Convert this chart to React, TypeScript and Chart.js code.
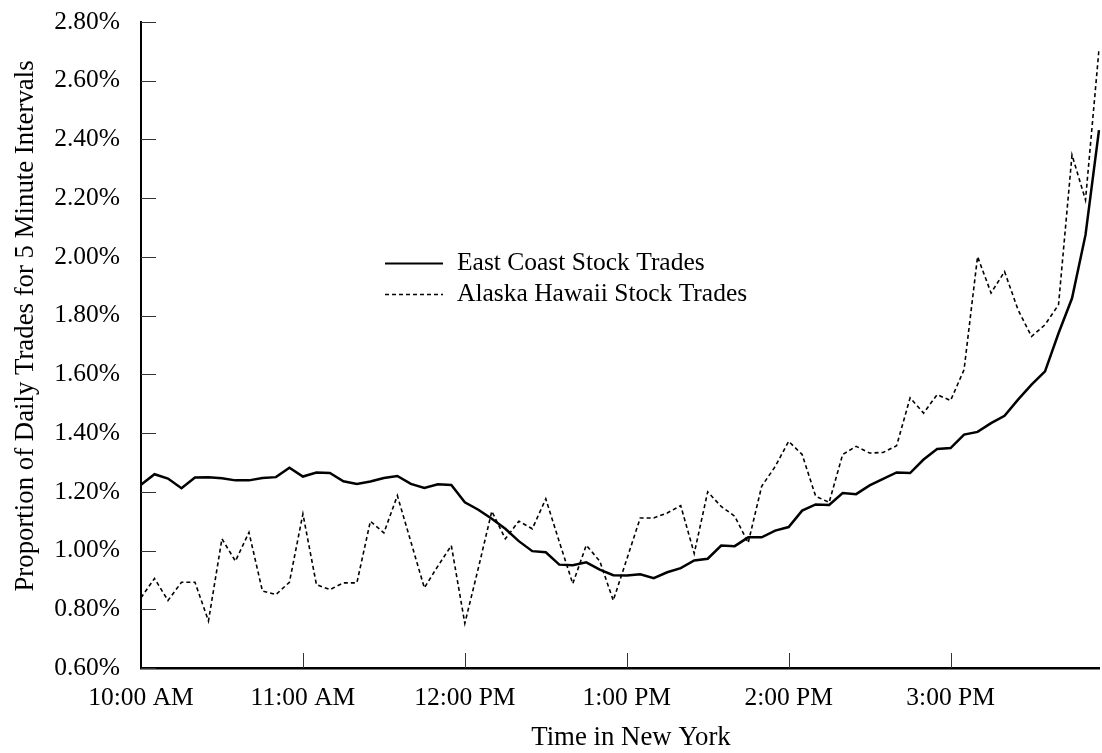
import React, { useEffect, useRef } from "react";
import { Chart, registerables } from "chart.js";

Chart.register(...registerables);

const timeSlots = [
  "10:00", "10:05", "10:10", "10:15", "10:20", "10:25", "10:30", "10:35", "10:40", "10:45", "10:50", "10:55",
  "11:00", "11:05", "11:10", "11:15", "11:20", "11:25", "11:30", "11:35", "11:40", "11:45", "11:50", "11:55",
  "12:00", "12:05", "12:10", "12:15", "12:20", "12:25", "12:30", "12:35", "12:40", "12:45", "12:50", "12:55",
  "1:00", "1:05", "1:10", "1:15", "1:20", "1:25", "1:30", "1:35", "1:40", "1:45", "1:50", "1:55",
  "2:00", "2:05", "2:10", "2:15", "2:20", "2:25", "2:30", "2:35", "2:40", "2:45", "2:50", "2:55",
  "3:00", "3:05", "3:10", "3:15", "3:20", "3:25", "3:30", "3:35", "3:40", "3:45", "3:50", "3:55",
];

const hourLabels = ["10:00 AM", "11:00 AM", "12:00 PM", "1:00 PM", "2:00 PM", "3:00 PM"];

const eastCoast = [
  1.224, 1.26, 1.245, 1.212, 1.249, 1.25, 1.246, 1.239, 1.239, 1.247, 1.25, 1.282,
  1.252, 1.266, 1.264, 1.236, 1.227, 1.235, 1.247, 1.254, 1.227, 1.213, 1.226, 1.223,
  1.164, 1.139, 1.108, 1.074, 1.032, 0.998, 0.994, 0.952, 0.95, 0.96, 0.935, 0.916,
  0.915, 0.919, 0.906, 0.926, 0.94, 0.966, 0.972, 1.017, 1.015, 1.045, 1.045, 1.068,
  1.08, 1.136, 1.157, 1.155, 1.196, 1.192, 1.222, 1.244, 1.266, 1.264, 1.31, 1.346,
  1.349, 1.395, 1.404, 1.434, 1.459, 1.514, 1.565, 1.61, 1.74, 1.859, 2.075, 2.432,
];

const alaskaHawaii = [
  0.839, 0.905, 0.83, 0.892, 0.892, 0.76, 1.04, 0.964, 1.062, 0.862, 0.85, 0.892,
  1.125, 0.884, 0.867, 0.89, 0.89, 1.1, 1.06, 1.187, 1.03, 0.873, 0.947, 1.017,
  0.752, 0.94, 1.134, 1.04, 1.1, 1.074, 1.176, 1.03, 0.887, 1.018, 0.964, 0.83,
  0.97, 1.111, 1.111, 1.128, 1.153, 0.99, 1.2, 1.15, 1.117, 1.026, 1.219, 1.286,
  1.372, 1.327, 1.185, 1.164, 1.327, 1.355, 1.332, 1.334, 1.357, 1.52, 1.468, 1.531,
  1.511, 1.616, 2.001, 1.877, 1.95, 1.82, 1.729, 1.769, 1.837, 2.347, 2.194, 2.707,
];

const seriesNames = ["East Coast Stock Trades", "Alaska Hawaii Stock Trades"];
const xTitle = "Time in New York";
const yTitle = "Proportion of Daily Trades for 5 Minute Intervals";

const FONT = "'Liberation Serif', 'Times New Roman', serif";

const inwardTicks = {
  id: "inwardTicks",
  afterDatasetsDraw(chart: any) {
    const { ctx, chartArea, scales } = chart;
    const xs = scales.x;
    const ys = scales.y;
    ctx.save();
    ctx.strokeStyle = "#333";
    ctx.lineWidth = 1;
    ys.ticks.forEach((_t: any, i: number) => {
      const py = Math.round(ys.getPixelForTick(i)) + 0.5;
      ctx.beginPath();
      ctx.moveTo(chartArea.left, py);
      ctx.lineTo(chartArea.left + 15, py);
      ctx.stroke();
    });
    for (let i = 12; i < timeSlots.length; i += 12) {
      const px = Math.round(xs.getPixelForValue(i)) + 0.5;
      ctx.beginPath();
      ctx.moveTo(px, chartArea.bottom);
      ctx.lineTo(px, chartArea.bottom - 15);
      ctx.stroke();
    }
    ctx.restore();
  },
};

const titlesAndLegend = {
  id: "titlesAndLegend",
  afterDraw(chart: any) {
    const { ctx, chartArea } = chart;
    ctx.save();
    ctx.fillStyle = "#000";

    // axis titles
    ctx.font = `26.8px ${FONT}`;
    ctx.textBaseline = "alphabetic";
    ctx.textAlign = "center";
    ctx.fillText(xTitle, chartArea.left + 490, chartArea.bottom + 77);
    ctx.save();
    ctx.translate(chartArea.left - 108, chartArea.top + 304);
    ctx.rotate(-Math.PI / 2);
    ctx.fillText(yTitle, 0, 0);
    ctx.restore();

    // legend
    const x0 = chartArea.left + 244;
    const y0 = chartArea.top + 241;
    chart.data.datasets.forEach((ds: any, i: number) => {
      const y = y0 + i * 31;
      ctx.beginPath();
      ctx.strokeStyle = ds.borderColor;
      ctx.lineWidth = ds.borderDash && ds.borderDash.length ? 1.4 : 2;
      ctx.setLineDash(ds.borderDash || []);
      ctx.moveTo(x0, y + 0.5);
      ctx.lineTo(x0 + 58, y + 0.5);
      ctx.stroke();
      ctx.setLineDash([]);
      ctx.font = `25.5px ${FONT}`;
      ctx.textBaseline = "middle";
      ctx.textAlign = "left";
      ctx.fillText(ds.label, x0 + 72, y);
    });
    ctx.restore();
  },
};

export default function App() {
  const canvasRef = useRef<HTMLCanvasElement | null>(null);

  useEffect(() => {
    document.body.style.margin = "0";
    const canvas = canvasRef.current;
    if (!canvas) return;
    const chart = new Chart(canvas, {
      type: "line",
      data: {
        labels: timeSlots,
        datasets: [
          {
            label: seriesNames[0],
            data: eastCoast,
            borderColor: "#000",
            borderWidth: 2.5,
            pointRadius: 0,
            tension: 0,
            fill: false,
          },
          {
            label: seriesNames[1],
            data: alaskaHawaii,
            borderColor: "#000",
            borderWidth: 1.6,
            borderDash: [4, 3],
            pointRadius: 0,
            tension: 0,
            fill: false,
          },
        ],
      },
      options: {
        animation: false,
        responsive: false,
        layout: { padding: { top: 22, right: 3, left: 0, bottom: 0 } },
        plugins: {
          legend: { display: false },
          tooltip: { enabled: false },
        },
        scales: {
          x: {
            type: "category",
            offset: false,
            grid: { display: false, drawTicks: false },
            border: { display: true, color: "#000", width: 2.5 },
            ticks: {
              autoSkip: false,
              maxRotation: 0,
              minRotation: 0,
              padding: 15,
              color: "#000",
              font: { family: FONT, size: 25.5 },
              callback: (_v: any, idx: number) => (idx % 12 === 0 ? hourLabels[idx / 12] : ""),
            },
            title: { display: false },
            afterFit: (scale: any) => {
              scale.height = 85;
              scale.paddingLeft = 0;
              scale.paddingRight = 0;
            },
          },
          y: {
            min: 0.6,
            max: 2.8,
            grid: { display: false, drawTicks: false },
            border: { display: true, color: "#000", width: 2 },
            ticks: {
              stepSize: 0.2,
              padding: 21,
              color: "#000",
              font: { family: FONT, size: 25.5 },
              callback: (v: any) => Number(v).toFixed(2) + "%",
            },
            title: { display: false },
            afterFit: (scale: any) => {
              scale.width = 141;
              scale.paddingTop = 0;
              scale.paddingBottom = 0;
            },
          },
        },
      },
      plugins: [inwardTicks, titlesAndLegend],
    });
    return () => chart.destroy();
  }, []);

  return (
    <div style={{ width: 1102, height: 753 }}>
      <canvas ref={canvasRef} width={1102} height={753} style={{ display: "block" }} />
    </div>
  );
}
